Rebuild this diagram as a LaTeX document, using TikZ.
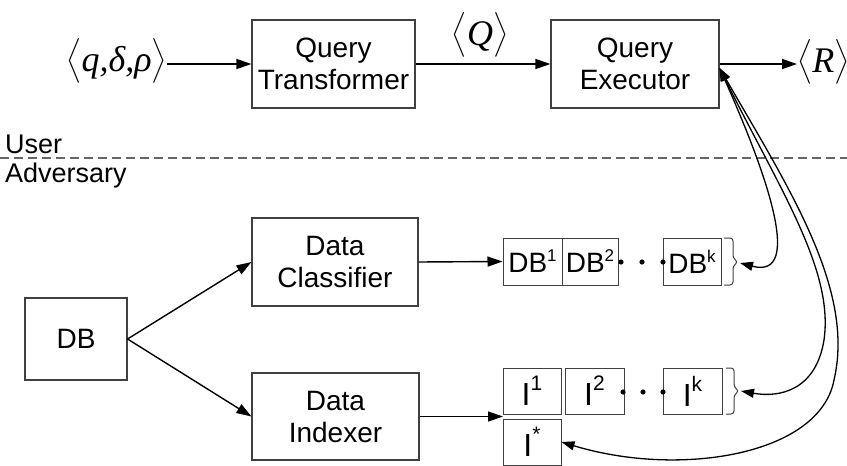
\RequirePackage{fix-cm}
\documentclass[tikz,border=0pt]{standalone}
\usepackage{amsmath}
\usepackage{fontspec}
\setmainfont{Liberation Sans}
\newfontfamily\tms{Liberation Serif}
\usetikzlibrary{arrows.meta}
\newcommand{\angl}[1]{{\fontsize{40}{40}\selectfont$\bigl\langle$}{\tms\itshape\fontsize{36}{36}\selectfont #1}{\fontsize{40}{40}\selectfont$\bigr\rangle$}}
\newcommand{\supa}[1]{\raisebox{11pt}{\fontsize{17}{17}\selectfont #1}}
\newcommand{\supb}[1]{\raisebox{15pt}{\fontsize{21}{21}\selectfont #1}}
\begin{document}
\begin{tikzpicture}[x=1pt,y=-1pt,
  box/.style={draw=black!75, line width=1.1pt, inner sep=0pt, align=center, font=\fontsize{28}{32}\selectfont},
  cell/.style={draw=black!75, line width=1pt, inner sep=0pt},
  cella/.style={cell, minimum height=47pt, font=\fontsize{28}{28}\selectfont},
  cellb/.style={cell, minimum height=46pt, font=\fontsize{32}{32}\selectfont},
  arr/.style={line width=1.4pt, -{Triangle[length=15pt,width=10pt]}},
  carr/.style={line width=1.3pt, {Triangle[length=13pt,width=9pt]}-{Triangle[length=13pt,width=9pt]}},
  lab/.style={inner sep=0pt},
  bracestyle/.style={draw=black!75, line width=1pt, rounded corners=3pt},
  sep/.style={draw=black!60, line width=1.2pt, dash pattern=on 9pt off 5pt}]

\useasboundingbox (0,0) rectangle (847,466);

% main boxes
\node[box, minimum width=163pt, minimum height=88pt] (trans) at (333.5,64) {Query\\Transformer};
\node[box, minimum width=168pt, minimum height=88pt] (exec) at (635,64) {Query\\Executor};
\node[box, minimum width=166pt, minimum height=88pt] (class) at (335,262) {Data\\Classifier};
\node[box, minimum width=167pt, minimum height=87pt] (index) at (335.5,416.5) {Data\\Indexer};
\node[box, minimum width=102pt, minimum height=82pt] (db) at (76,339) {DB};

% math labels
\node[lab, anchor=east] (in) at (167,61) {\angl{q,δ,ρ}};
\node[lab] (ql) at (480,35) {\angl{Q}};
\node[lab, anchor=west] (out) at (797,62) {\angl{R}};

% user / adversary
\node[lab, anchor=base west, font=\fontsize{27}{27}\selectfont] (user) at (5,153) {User};
\node[lab, anchor=base west, font=\fontsize{27}{27}\selectfont] (adv) at (5,182) {Adversary};
\draw[sep] (0,158) -- (847,158);

% DB cells
\node[cella, minimum width=59pt] (db1) at (532.5,261.5) {DB\supa{1}};
\node[cella, minimum width=56pt] (db2) at (590,261.5) {DB\supa{2}};
\node[cella, minimum width=58pt] (dbk) at (692,261.5) {DB\supa{k}};
\fill (621,262) circle (2.6);
\fill (642,262) circle (2.6);
\fill (663,262) circle (2.6);
\draw[bracestyle] (724,238) -- (733,238) -- (733,258) -- (738,262) -- (733,266) -- (733,285) -- (724,285);
\coordinate (bdb) at (740,263);

% I cells
\node[cellb, minimum width=58pt] (i1) at (532,391) {I\supb{1}};
\node[cellb, minimum width=59pt] (i2) at (594.5,391) {I\supb{2}};
\node[cellb, minimum width=59pt] (ik) at (692.5,391) {I\supb{k}};
\node[cellb, minimum width=58pt] (istar) at (532,442) {I\supb{*}};
\fill (623,392) circle (2.6);
\fill (643,392) circle (2.6);
\fill (663,392) circle (2.6);
\draw[bracestyle] (726,368) -- (734,368) -- (734,387) -- (739,391) -- (734,395) -- (734,414) -- (726,414);
\coordinate (bi) at (741,391);
\coordinate (ij) at (503,416.5);

% arrows
\draw[arr] (trans.west -| in.east) -- (trans.west);
\draw[arr] (trans.east) -- (exec.west);
\draw[arr] (exec.east) -- (exec.east -| out.west);
\draw[arr] (db.east) -- (class.west);
\draw[arr] (db.east) -- (index.west);
\draw[arr] (class.east) -- (db1.west);
\draw[arr] (index.east) -- (ij);

% curved double arrows
\coordinate (cs) at ([yshift=-4pt]exec.east);
\draw[carr] (cs) .. controls (765,170) and (805,280) .. (bdb);
\draw[carr] (cs) .. controls (780,190) and (834,270) .. (824,340) .. controls (816,390) and (780,398) .. (bi);
\draw[carr] (cs) .. controls (790,190) and (855,290) .. (834,380) .. controls (820,455) and (680,478) .. (istar.east);
\end{tikzpicture}
\end{document}
